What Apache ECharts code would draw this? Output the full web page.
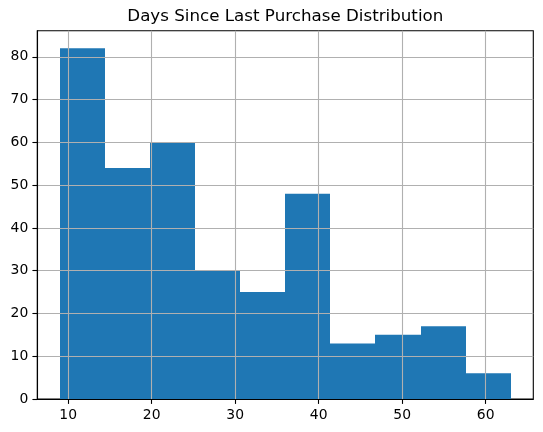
<!DOCTYPE html>
<html>
<head>
<meta charset="utf-8">
<script src="https://cdn.jsdelivr.net/npm/echarts@6/dist/echarts.min.js"></script>
<style>
  html, body { margin: 0; padding: 0; background: #ffffff; }
  #chart { width: 543px; height: 432px; }
</style>
</head>
<body>
<div id="chart"></div>
<script>
const chartTitle = 'Days Since Last Purchase Distribution';
const binEdges = [9, 14.4, 19.8, 25.2, 30.6, 36, 41.4, 46.8, 52.2, 57.6, 63];
const binCounts = [82, 54, 60, 30, 25, 48, 13, 15, 17, 6];
const xTicks = [10, 20, 30, 40, 50, 60];
const yTicks = [0, 10, 20, 30, 40, 50, 60, 70, 80];

const histData = binCounts.map((c, i) => [binEdges[i], binEdges[i + 1], c]);

const font = 'DejaVu Sans';
const chart = echarts.init(document.getElementById('chart'), null, { renderer: 'canvas' });
chart.setOption({
  animation: false,
  backgroundColor: '#ffffff',
  title: {
    text: chartTitle,
    left: 285.3,
    textAlign: 'center',
    top: 8,
    padding: 0,
    textStyle: { fontFamily: font, fontSize: 16.7, fontWeight: 'normal', color: '#000000' }
  },
  grid: {
    left: 37.3, right: 9.7, top: 30.7, bottom: 33,
    show: true, borderColor: '#000000', borderWidth: 1.1, backgroundColor: 'transparent'
  },
  xAxis: {
    type: 'value', min: 6.3, max: 65.7, z: 5,
    axisLine: { show: true, onZero: false, lineStyle: { color: '#000000', width: 1.1 } },
    axisTick: { show: true, inside: false, length: 4.9, customValues: xTicks, lineStyle: { color: '#000000', width: 1.1 } },
    axisLabel: { customValues: xTicks, color: '#000000', fontFamily: font, fontSize: 13.9, margin: 9 },
    splitLine: { show: true, lineStyle: { color: '#b0b0b0', width: 1.1 } }
  },
  yAxis: {
    type: 'value', min: 0, max: 86.1, z: 5,
    axisLine: { show: true, lineStyle: { color: '#000000', width: 1.1 } },
    axisTick: { show: true, inside: false, length: 4.9, customValues: yTicks, lineStyle: { color: '#000000', width: 1.1 } },
    axisLabel: { customValues: yTicks, color: '#000000', fontFamily: font, fontSize: 13.9, margin: 9 },
    splitLine: { show: true, lineStyle: { color: '#b0b0b0', width: 1.1 } }
  },
  series: [{
    type: 'custom',
    z: 2,
    encode: { x: [0, 1], y: 2 },
    data: histData,
    renderItem: function (params, api) {
      const p0 = api.coord([api.value(0), api.value(2)]);
      const p1 = api.coord([api.value(1), 0]);
      const x0 = Math.round(p0[0]);
      const x1 = Math.round(p1[0]);
      return {
        type: 'rect',
        shape: { x: x0, y: p0[1], width: x1 - x0, height: p1[1] - p0[1] },
        style: { fill: '#1f77b4' }
      };
    }
  }]
});
</script>
</body>
</html>
